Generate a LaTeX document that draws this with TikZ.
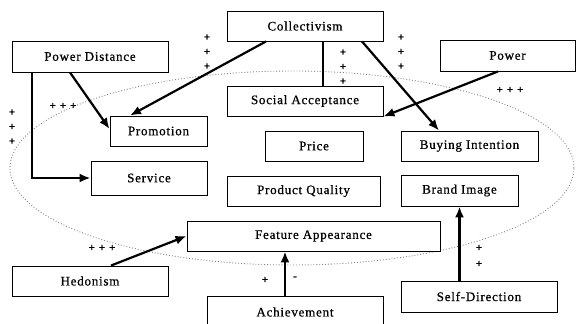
\documentclass[tikz,border=0pt]{standalone}
\usepackage{fontspec}
\usetikzlibrary{arrows.meta}
\setmainfont{Liberation Serif}
\newfontfamily\boxfont[LetterSpace=6.0, FakeBold=0.7]{Liberation Serif}
\newfontfamily\signfont[FakeBold=1.6]{Liberation Serif}

\begin{document}
\begin{tikzpicture}[x = 1pt, y = -1pt, > = {Latex[length = 11pt, width = 9pt]},
	box/.style = {draw, fill = white, line width = 0.9pt, inner sep = 0pt,
		minimum height = 30pt, font = \boxfont\fontsize{13}{15}\selectfont},
	arr/.style = {->, line width = 2.2pt},
	sign/.style = {inner sep = 0pt, align = center, font = \signfont\fontsize{11}{14.5}\selectfont}]

	% Definitions
	
	\def\rx{282}	% Horizontal radius of the ellipse
	\def\ry{97}		% Vertical radius of the ellipse
	
	\useasboundingbox (0, 0) rectangle (576, 324);
	
	% Ellipse round the marketing mix
	
	\draw [gray, dotted, line width = 0.9pt] (292, 168) ellipse [x radius = \rx pt, y radius = \ry pt];
	
	% Values
	
	\node [box, minimum width = 156pt] (collectivism) at (305, 26) {Collectivism};
	\node [box, minimum width = 156pt, minimum height = 31pt] (distance) at (90, 56.5) {Power Distance};
	\node [box, minimum width = 135pt, minimum height = 31pt] (power) at (507.5, 55.5) {Power};
	\node [box, minimum width = 156pt] (hedonism) at (90, 281) {Hedonism};
	\node [box, minimum width = 176pt, minimum height = 32pt] (achievement) at (295, 312) {Achievement};
	\node [box, minimum width = 156pt, minimum height = 31pt] (selfdir) at (479, 296.5) {Self-Direction};
	
	% Marketing mix
	
	\node [box, minimum width = 156pt] (social) at (305, 101) {Social Acceptance};
	\node [box, minimum width = 97pt] (promotion) at (158.5, 131) {Promotion};
	\node [box, minimum width = 98pt] (price) at (314, 146) {Price};
	\node [box, minimum width = 137pt] (buying) at (469.5, 146) {Buying Intention};
	\node [box, minimum width = 116pt, minimum height = 34pt] (service) at (149, 178) {Service};
	\node [box, minimum width = 153pt] (quality) at (303.5, 191) {Product Quality};
	\node [box, minimum width = 117pt, minimum height = 31pt] (brand) at (459.5, 190.5) {Brand Image};
	\node [box, minimum width = 253pt] (feature) at (313.5, 236) {Feature Appearance};
	
	% Influences
	
	\draw [arr] ([xshift = -20pt] distance.south) -- ([yshift = 2pt] promotion.west);
	\draw [arr] ([xshift = -58pt] distance.south) |- (service.west);
	\draw [arr] ([xshift = -39pt] collectivism.south) -- ([xshift = -28.5pt] promotion.north);
	\draw [line width = 2.2pt] ([xshift = 18pt] collectivism.south) -- ([xshift = 18pt] social.north);
	\draw [arr] ([xshift = 57pt] collectivism.south) -- ([xshift = -30.5pt] buying.north);
	\draw [arr] ([xshift = -9.5pt] power.south) -- (social.south east);
	\draw [arr] ([xshift = 21pt] hedonism.north) -- (feature.west);
	\draw [arr] ([xshift = -10pt] achievement.north) -- ([xshift = -10pt] achievement.north |- feature.south);
	\draw [arr] (selfdir.north -| brand.south) -- (brand.south);
	
	% Signs of the influences
	
	\node [sign] (distance-sign) at (63, 106) {+\hspace{4pt}+\hspace{4pt}+};
	\node [sign] (service-sign) at (12, 127) {+\\+\\+};
	\node [sign] (promotion-sign) at (207, 52) {+\\+\\+};
	\node [sign] (social-sign) at (343, 67) {+\\+\\+};
	\node [sign] (buying-sign) at (401, 52) {+\\+\\+};
	\node [sign] (power-sign) at (510, 90) {+\hspace{4pt}+\hspace{4pt}+};
	\node [sign] (hedonism-sign) at (102, 248) {+\hspace{4pt}+\hspace{4pt}+};
	\node [sign] (achievement-plus) at (265, 280) {+};
	\node [sign] (achievement-minus) at (295, 278) {-};
	\node [sign] (selfdir-sign) at (479, 256) {+\\[1.5pt]+};
	
\end{tikzpicture}
\end{document}
